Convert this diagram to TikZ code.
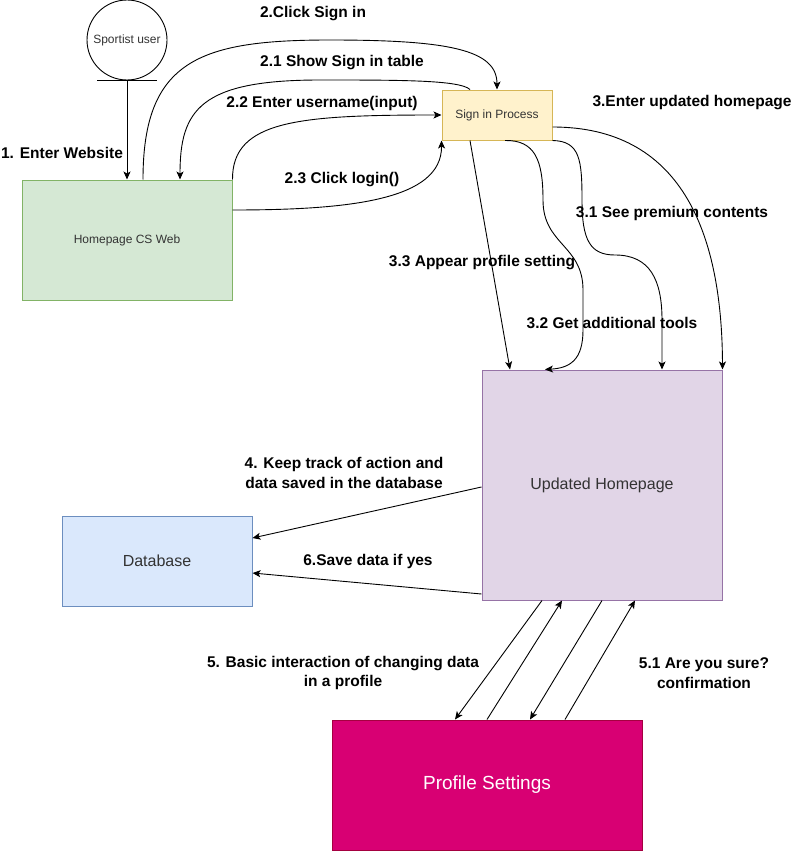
\documentclass[tikz,border=0pt]{standalone}
\usepackage{fontspec}
\setmainfont{Liberation Sans}
\usepackage{xcolor}
\usepackage{tikz}
\usetikzlibrary{arrows.meta, positioning, calc}
\definecolor{homefill}{HTML}{D5E8D4}
\definecolor{homeline}{HTML}{82B366}
\definecolor{signfill}{HTML}{FFF2CC}
\definecolor{signline}{HTML}{D6B656}
\definecolor{updfill}{HTML}{E1D5E7}
\definecolor{updline}{HTML}{9673A6}
\definecolor{dbfill}{HTML}{DAE8FC}
\definecolor{dbline}{HTML}{6C8EBF}
\definecolor{proffill}{HTML}{D80073}
\definecolor{profline}{HTML}{A50040}
\definecolor{boxtext}{HTML}{333333}

\begin{document}
\begin{tikzpicture}[x=1pt,y=-1pt,
  box/.style={draw, line width=1pt, inner sep=0pt, text=boxtext},
  small/.style={font=\fontsize{12}{14}\selectfont},
  big/.style={font=\fontsize{16}{19}\selectfont},
  lbl/.style={font=\fontsize{15.5}{19.5}\selectfont\bfseries, align=center, inner sep=0pt},
  flow/.style={-{Stealth[length=8pt,width=7pt,inset=2pt]}, line width=0.9pt}]
\useasboundingbox (0,0) rectangle (795,851);
\node[circle, draw, line width=0.9pt, minimum size=80pt, inner sep=0pt, small, text=boxtext] (user) at (127,40) {Sportist user};
\draw[line width=0.9pt] ([xshift=-30pt]user.south) -- ([xshift=30pt]user.south);
\node[box, small, fill=homefill, draw=homeline, minimum width=210pt, minimum height=120pt] (home) at (127,240) {Homepage CS Web};
\node[box, small, fill=signfill, draw=signline, minimum width=110pt, minimum height=50pt] (sign) at (497,115) {Sign in Process};
\node[box, big, fill=updfill, draw=updline, minimum width=240pt, minimum height=230pt] (upd) at (602,485) {Updated Homepage};
\node[box, big, fill=dbfill, draw=dbline, minimum width=190pt, minimum height=90pt] (db) at (157,561) {Database};
\node[box, fill=proffill, draw=profline, text=white, font=\fontsize{19}{22}\selectfont, minimum width=310pt, minimum height=130pt] (prof) at (487,785) {Profile Settings};

\draw[flow] (user.south) -- (home.north);
\draw[flow] ([xshift=16pt]home.north) .. controls (143,60) and (200,40) .. (330,40)
  .. controls (450,40) and (497,50) .. (sign.north);
\draw[flow] ([xshift=-27pt]sign.north) .. controls (460,80) and (400,80) .. (320,80)
  .. controls (200,80) and (180,110) .. ([xshift=53pt]home.north);
\draw[flow] (home.north east) .. controls (232,120) and (300,115) .. (sign.west);
\draw[flow] ([yshift=30pt]home.east) .. controls (350,210) and (442,200) .. (sign.south west);
\draw[flow] ([yshift=-12pt]sign.east) .. controls (680,127) and (722,230) .. (upd.north east);
\draw[flow] (sign.south east) .. controls (580,141) and (582,160) .. (582,200)
  .. controls (582,240) and (590,255) .. (615,255)
  .. controls (650,255) and (662,280) .. (662,320) -- ([xshift=60pt]upd.north);
\draw[flow] ([xshift=8pt]sign.south) .. controls (535,140) and (543,160) .. (543,200)
  .. controls (543,245) and (583,245) .. (583,290) -- (583,330)
  .. controls (583,360) and (570,368) .. ([xshift=-57pt]upd.north);
\draw[flow] ([xshift=-27pt]sign.south) -- ([xshift=-92pt]upd.north);
\draw[flow] ([yshift=-2pt]upd.west) -- ([yshift=23pt]db.east);
\draw[flow] ([yshift=-109pt]upd.west) -- ([yshift=-12pt]db.east);
\draw[flow] ([xshift=-60pt]upd.south) -- ([xshift=-32pt]prof.north);
\draw[flow] (prof.north) -- ([xshift=-40pt]upd.south);
\draw[flow] (upd.south) -- ([xshift=43pt]prof.north);
\draw[flow] ([xshift=78pt]prof.north) -- ([xshift=33pt]upd.south);

\node[lbl] (l1) at (62,153) {1. Enter Website};
\node[lbl] (l2) at (313,14) {2.Click Sign in};
\node[lbl] (l21) at (342,63) {2.1 Show Sign in table};
\node[lbl] (l22) at (322,103) {2.2 Enter username(input)};
\node[lbl] (l23) at (342,180) {2.3 Click login()};
\node[lbl] (l3) at (692,103) {3.Enter updated homepage};
\node[lbl] (l31) at (672,213) {3.1 See premium contents};
\node[lbl] (l33) at (482,263) {3.3 Appear profile setting};
\node[lbl] (l32) at (612,323) {3.2 Get additional tools};
\node[lbl] (l4) at (344,473) {4. Keep track of action and\\data saved in the database};
\node[lbl] (l6) at (368,561) {6.Save data if yes};
\node[lbl] (l5) at (343,673) {5. Basic interaction of changing data\\in a profile};
\node[lbl] (l51) at (704,673) {5.1 Are you sure?\\confirmation};
\end{tikzpicture}
\end{document}
